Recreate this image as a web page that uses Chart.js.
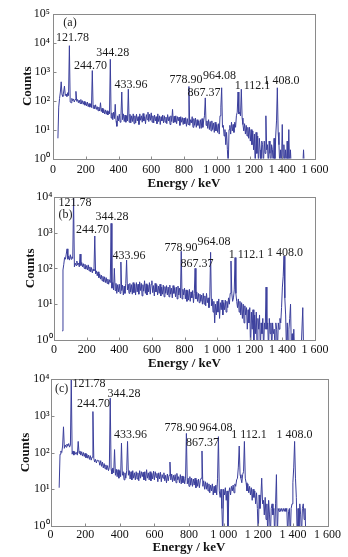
<!DOCTYPE html>
<html><head><meta charset="utf-8">
<script src="https://cdn.jsdelivr.net/npm/chart.js@4/dist/chart.umd.min.js"></script>
<style>
html,body{margin:0;padding:0;background:#fff;width:348px;height:557px;overflow:hidden}
canvas{position:absolute;left:0}
</style></head>
<body>
<canvas id="ca" width="348" height="190" style="top:0px;width:348px;height:190px"></canvas>
<canvas id="cb" width="348" height="182" style="top:188px;width:348px;height:182px"></canvas>
<canvas id="cc" width="348" height="187" style="top:370px;width:348px;height:187px"></canvas>
<script>
// ---- data: channel energies (keV) and counts ----
const energyKeV = [
  0,5,10,15,20,25,30,35,40,45,50,55,60,65,70,75,80,85,90,95,
  100,105,110,115,120,125,130,135,140,145,150,155,160,165,170,175,180,185,190,195,
  200,205,210,215,220,225,230,235,240,245,250,255,260,265,270,275,280,285,290,295,
  300,305,310,315,320,325,330,335,340,345,350,355,360,365,370,375,380,385,390,395,
  400,405,410,415,420,425,430,435,440,445,450,455,460,465,470,475,480,485,490,495,
  500,505,510,515,520,525,530,535,540,545,550,555,560,565,570,575,580,585,590,595,
  600,605,610,615,620,625,630,635,640,645,650,655,660,665,670,675,680,685,690,695,
  700,705,710,715,720,725,730,735,740,745,750,755,760,765,770,775,780,785,790,795,
  800,805,810,815,820,825,830,835,840,845,850,855,860,865,870,875,880,885,890,895,
  900,905,910,915,920,925,930,935,940,945,950,955,960,965,970,975,980,985,990,995,
  1000,1005,1010,1015,1020,1025,1030,1035,1040,1045,1050,1055,1060,1065,1070,1075,1080,1085,1090,1095,
  1100,1105,1110,1115,1120,1125,1130,1135,1140,1145,1150,1155,1160,1165,1170,1175,1180,1185,1190,1195,
  1200,1205,1210,1215,1220,1225,1230,1235,1240,1245,1250,1255,1260,1265,1270,1275,1280,1285,1290,1295,
  1300,1305,1310,1315,1320,1325,1330,1335,1340,1345,1350,1355,1360,1365,1370,1375,1380,1385,1390,1395,
  1400,1405,1410,1415,1420,1425,1430,1435,1440,1445,1450,1455,1460,1465,1470,1475,1480,1485,1490,1495,
  1500,1505,1510,1515,1520,1525,1530,1535,1540,1545,1550
];
const countsA = [
  null,null,null,null,null,null,5,60,120,200,450,160,140,200,320,150,170,140,190,150,
  8000,90,85,120,100,115,90,110,210,95,110,85,105,80,110,78,100,75,95,70,
  88,66,90,62,80,60,78,58,1100,55,70,52,72,50,62,45,60,44,85,42,
  55,38,50,35,48,34,45,32,42,35,2700,25,38,22,40,24,75,20,13,30,
  20,34,18,30,200,22,35,19,32,18,30,20,250,18,34,17,30,19,35,16,
  30,17,34,20,28,15,35,21,30,18,36,20,28,16,33,22,40,19,34,21,
  38,18,30,17,32,20,28,16,35,19,30,15,28,20,32,17,30,18,27,16,
  33,20,28,15,30,19,50,17,29,18,30,16,28,20,27,14,28,18,26,15,
  25,16,26,13,24,15,310,14,22,17,28,12,24,14,25,12,22,14,20,11,
  22,11,24,12,20,30,125,14,20,11,22,10,19,9,20,10,17,8,18,9,
  15,8,16,7,30,60,280,12,14,6,10,3,8,2,0.5,10,14,7,18,9,
  15,8,18,12,30,40,200,35,40,30,250,25,15,9,16,7,14,6,12,5,
  12,4,10,3,9,2,7,0.5,8,1.5,6,0.5,5,2,0.5,4,3,0.5,4,1.5,
  30,2,3,0.5,4,1.5,0.5,3,2,0.5,5,0.5,6,20,280,8,3,0.5,2,0.5,
  15,0.5,3,0.5,2,0.5,4,0.5,10,0.5,2,0.5,0.5,0.5,0.5,0.5,0.5,0.5,0.5,0.5,
  0.5,0.5,0.5,0.5,0.5,0.5,2,0.5,null,null,null
];
const countsB = [
  null,null,null,null,null,null,null,null,null,null,1.8,90,130,200,180,250,350,180,220,170,
  240,180,210,190,9000,110,140,120,160,125,140,110,250,120,145,110,135,100,130,95,
  120,90,125,85,110,80,105,75,95,85,800,70,85,62,80,55,70,50,65,45,
  60,42,58,40,55,38,50,36,48,40,1800,28,40,25,100,24,38,20,35,22,
  36,20,150,24,34,18,32,20,38,170,25,36,20,38,22,35,19,40,21,36,
  18,40,22,36,19,42,24,38,17,35,23,45,20,37,18,34,22,40,19,36,
  45,21,33,17,38,22,35,18,32,20,36,17,30,19,34,16,31,20,33,18,
  30,16,34,19,28,15,33,20,29,16,30,14,32,18,28,15,300,14,26,18,
  28,14,25,12,24,13,26,12,22,15,24,11,20,100,14,22,12,20,11,19,
  12,18,10,20,10,17,9,20,11,15,8,16,280,9,14,6,12,3,10,5,
  12,6,14,4,11,7,13,5,11,7,13,6,12,8,15,10,20,160,20,12,
  15,25,200,20,12,8,14,6,12,5,11,4,10,3,9,5,8,2,7,3,
  8,0.5,6,2,7,0.5,5,1.5,6,0.5,4,2,5,0.5,3,1.5,4,0.5,3,2,
  30,2,3,0.5,4,1.5,3,0.5,3,1.5,2,0.5,3,2,0.5,3,2,4,3,8,
  30,60,220,15,5,0.5,3,0.5,2,4,10,0.5,1.5,0.5,2,0.5,0.5,0.5,0.5,0.5,
  0.5,0.5,0.5,0.5,0.5,8,0.5,null,null,null,null
];
const countsC = [
  null,null,null,null,null,null,null,null,null,null,11,90,110,100,150,500,130,160,140,170,
  150,175,140,160,10000,90,110,85,105,90,100,85,200,95,110,85,105,80,100,78,
  95,72,90,70,85,65,82,62,75,1300,70,55,65,52,62,60,58,45,60,42,
  55,38,50,36,46,34,44,32,40,3000,35,26,38,28,120,24,35,22,34,20,
  32,22,180,24,30,18,28,20,32,200,24,32,19,30,18,32,20,28,18,30,
  19,28,17,32,20,30,22,29,18,30,17,34,20,28,18,30,17,27,19,31,
  18,30,21,27,16,28,19,29,16,25,20,28,17,24,15,26,17,24,55,18,
  26,16,24,17,25,15,27,18,22,15,25,14,23,15,22,14,20,330,14,20,
  12,22,13,20,12,19,13,20,11,18,12,19,11,17,20,110,12,17,10,16,
  10,15,9,14,8,13,9,14,7,12,8,13,7,20,270,9,6,10,3,0.5,
  10,7,11,5,9,0.5,8,11,7,12,9,13,8,14,12,18,20,40,150,25,
  20,15,25,30,200,20,15,9,14,8,12,7,11,5,10,6,9,4,8,3,
  0.5,7,3,6,20,4,5,2,6,1.5,4,0.5,5,2,0.5,3,4,2,3,0.5,
  4,25,0.5,3,2.5,3,2.5,3,2.5,3,2.5,3,2.5,3,0.5,2.5,3,0.5,3,4,
  15,40,200,20,6,0.5,3,0.5,4,2,0.5,3,4,1.5,3,0.5,null,null,null,null,
  null,null,null,null,null,null,null,null,null,null,null
];
const xTickValues = [0,200,400,600,800,1000,1200,1400,1600];
const xTickLabels = ['0','200','400','600','800','1 000','1 200','1 400','1 600'];
const yTickLabels = ['10\u2070','10\u00B9','10\u00B2','10\u00B3','10\u2074','10\u2075'];
const peakNames = ['121.78','244.70','344.28','433.96','778.90','964.08','867.37','1 112.1','1 408.0'];
const panelTags = ['(a)','(b)','(c)'];
const xTitle = 'Energy / keV';
const yTitle = 'Counts';

// ---- annotation anchors (keV, log10 counts): tag first, then peakNames order ----
const anchorsA = {kev:[104,119,229,365,476,812,1017,922,1218,1395], dec:[4.68,4.17,3.2,3.64,2.54,2.72,2.85,2.28,2.51,2.69]};
const anchorsB = {kev:[70,129,236,356,460,778,981,877,1180,1416], dec:[3.5,3.82,3.08,3.45,2.34,2.57,2.73,2.13,2.37,2.44]};
const anchorsC = {kev:[64,222,248,425,462,754,956,878,1147,1409], dec:[3.73,3.86,3.32,3.59,2.49,2.68,2.67,2.26,2.49,2.49]};

const SERIF = '"Liberation Serif","Times New Roman",serif';

const decor = {
  id: 'decor',
  afterDatasetsDraw(chart, args, o) {
    const {ctx, chartArea: a, scales: {x, y}} = chart;
    ctx.save();
    ctx.strokeStyle = '#8a8a8a';
    ctx.lineWidth = 1;
    const L = Math.round(a.left) + 0.5, T = Math.round(a.top) + 0.5;
    const R = Math.round(a.right) + 0.5, B = Math.round(a.bottom) + 0.5;
    ctx.strokeRect(L, T, R - L, B - T);
    ctx.beginPath();
    x.ticks.forEach(t => { const px = Math.round(x.getPixelForValue(t.value)) + 0.5; ctx.moveTo(px, B); ctx.lineTo(px, B - 3); });
    y.ticks.forEach(t => { const py = Math.round(y.getPixelForValue(t.value)) + 0.5; ctx.moveTo(L, py); ctx.lineTo(L + 3, py); });
    ctx.stroke();
    ctx.fillStyle = '#1a1a1a';
    ctx.font = '12px ' + SERIF;
    ctx.textAlign = 'center';
    ctx.textBaseline = 'middle';
    const texts = [o.tag].concat(peakNames);
    texts.forEach((t, i) => {
      ctx.fillText(t, x.getPixelForValue(o.anchors.kev[i]), y.getPixelForValue(Math.pow(10, o.anchors.dec[i])));
    });
    ctx.restore();
  }
};

function makePanel(id, counts, tag, anchors, g) {
  const pts = energyKeV.map((e, i) => ({x: e, y: counts[i]}));
  new Chart(document.getElementById(id), {
    type: 'line',
    data: { datasets: [{ data: pts, borderColor: '#3b3f9c', borderWidth: 1, pointRadius: 0, tension: 0, spanGaps: false, fill: false }] },
    options: {
      responsive: false, animation: false, devicePixelRatio: 1,
      layout: { padding: { top: g.padTop, right: g.padRight, left: 0, bottom: 0 } },
      plugins: { legend: { display: false }, tooltip: { enabled: false }, decor: { tag: tag, anchors: anchors } },
      scales: {
        x: {
          type: 'linear', min: 0, max: 1600,
          afterBuildTicks: s => { s.ticks = xTickValues.map(v => ({value: v})); },
          afterFit: s => { s.height = g.xHeight; },
          grid: { display: false, drawTicks: false },
          border: { display: false },
          ticks: { autoSkip: false, maxRotation: 0, padding: g.xTickPad, color: '#111',
                   font: { family: SERIF, size: 12 },
                   callback: v => xTickLabels[xTickValues.indexOf(v)] },
          title: { display: true, text: xTitle, color: '#111', padding: { top: 0, bottom: g.xTitlePad },
                   font: { family: SERIF, size: 13, weight: 'bold', lineHeight: 1 } }
        },
        y: {
          type: 'logarithmic', min: 1, max: Math.pow(10, g.maxExp),
          afterBuildTicks: s => { s.ticks = yTickLabels.slice(0, g.maxExp + 1).map((l, k) => ({value: Math.pow(10, k)})); },
          afterFit: s => { s.width = g.yWidth; },
          grid: { display: false, drawTicks: false },
          border: { display: false },
          ticks: { autoSkip: false, padding: g.yTickPad, color: '#111',
                   font: { family: SERIF, size: 12 },
                   callback: v => yTickLabels[Math.round(Math.log10(v))] },
          title: { display: true, text: yTitle, color: '#111', padding: { top: g.yTitlePad, bottom: 0 },
                   font: { family: SERIF, size: 13, weight: 'bold', lineHeight: 1 } }
        }
      }
    },
    plugins: [decor]
  });
}

makePanel('ca', countsA, panelTags[0], anchorsA, {padTop: 14, padRight: 33, yWidth: 53, xHeight: 31.5, maxExp: 5, xTickPad: 4, yTickPad: 3, xTitlePad: 0, yTitlePad: 21.5});
makePanel('cb', countsB, panelTags[1], anchorsB, {padTop: 7, padRight: 33, yWidth: 54, xHeight: 30, maxExp: 4, xTickPad: 2.5, yTickPad: 1.5, xTitlePad: 0, yTitlePad: 24});
makePanel('cc', countsC, panelTags[2], anchorsC, {padTop: 9, padRight: 20.5, yWidth: 50.5, xHeight: 31, maxExp: 4, xTickPad: 1.5, yTickPad: 1, xTitlePad: 3, yTitlePad: 19.5});
</script>
</body></html>
